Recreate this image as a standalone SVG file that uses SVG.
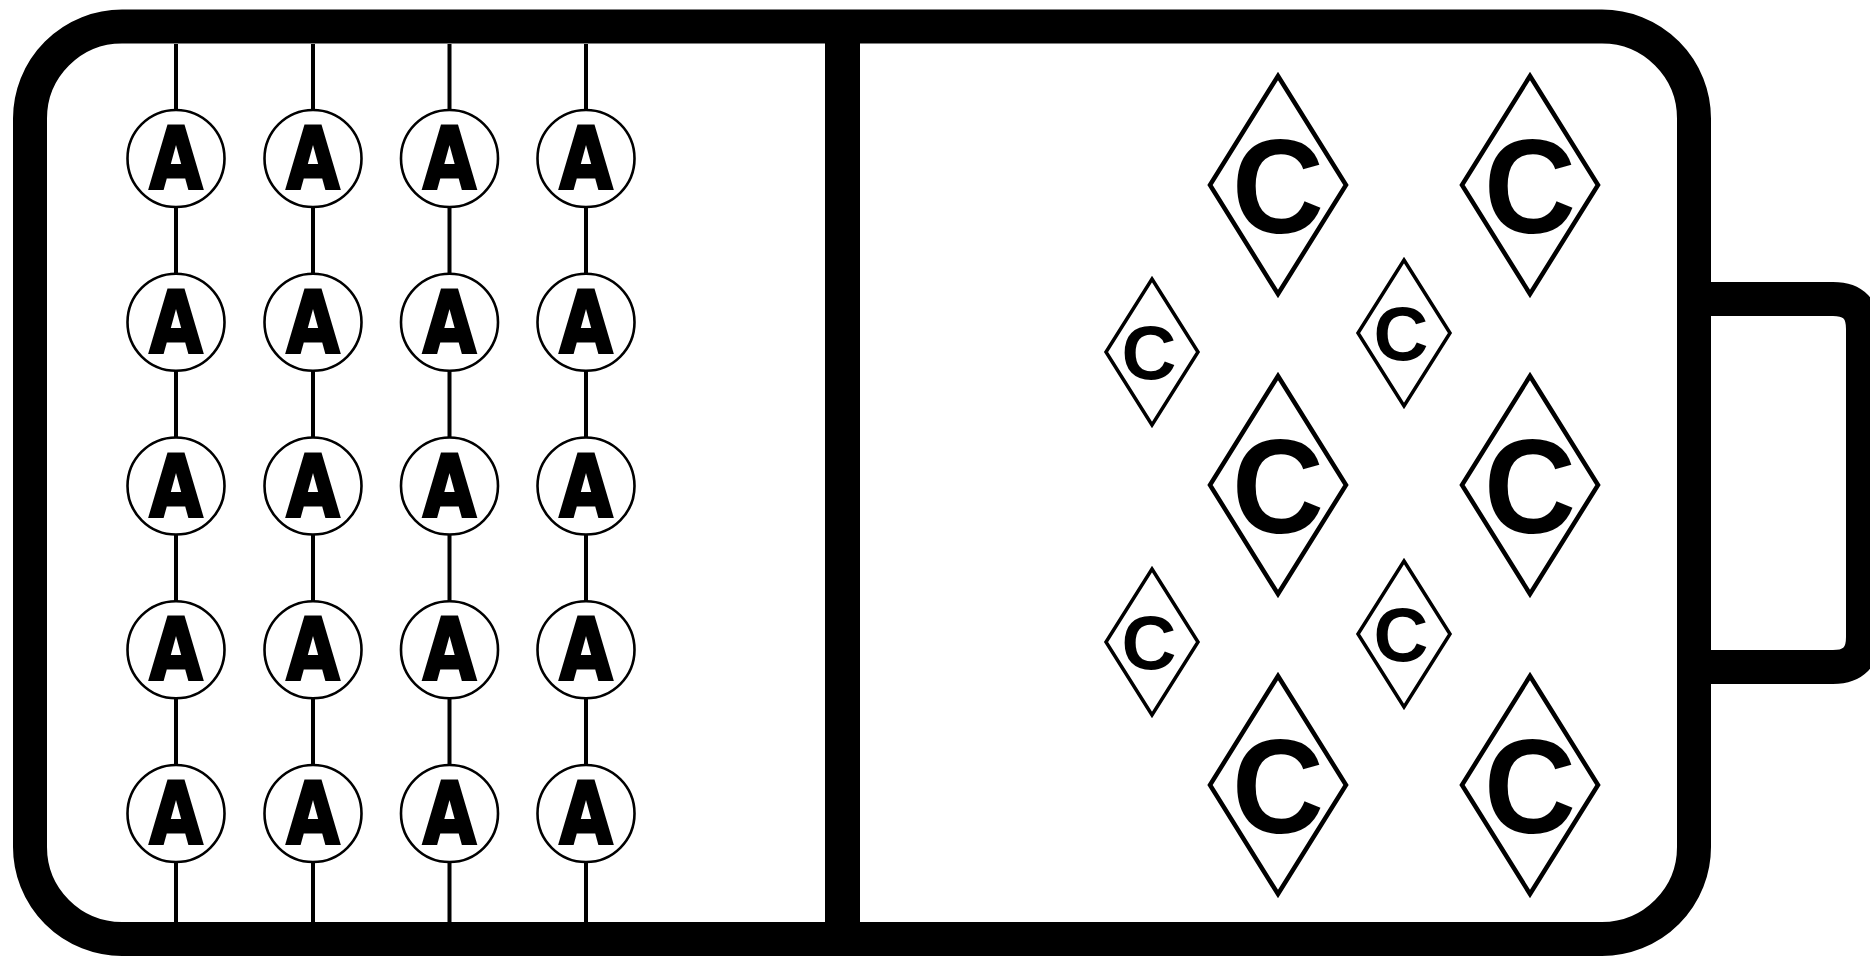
<svg xmlns="http://www.w3.org/2000/svg" width="1870" height="956" viewBox="0 0 1870 956">
<style>
.frame{fill:none;stroke:#000;stroke-width:34}
.wire{stroke:#000;stroke-width:4}
.an circle{fill:#fff;stroke:#000;stroke-width:2.6}
.an text{font-family:"DejaVu Sans","Liberation Sans",sans-serif;font-weight:bold;font-size:86px;text-anchor:middle;fill:#000;stroke:#000;stroke-width:3;stroke-linejoin:miter}
.cd polygon{fill:#fff;stroke:#000;stroke-linejoin:miter;stroke-miterlimit:10}
.big polygon{stroke-width:4.5}
.small polygon{stroke-width:3.5}
.cd text{font-family:"Liberation Sans",Arial,sans-serif;font-weight:bold;text-anchor:middle;fill:#000}
.big text{font-size:134px}
.small text{font-size:76px}
</style>
<rect x="0" y="0" width="1870" height="956" fill="#fff"/>
<g id="battery">
<path class="frame" d="M1694,299 H1833 Q1863,299 1863,329 V637 Q1863,667 1833,667 H1694"/>
<rect class="frame" x="30" y="26.5" width="1664" height="912.5" rx="92" ry="92"/>
<line x1="842.5" y1="26.5" x2="842.5" y2="939" stroke="#000" stroke-width="35"/>
</g>
<g id="connectors">
<line class="wire" x1="176" y1="44" x2="176" y2="923"/>
<line class="wire" x1="313" y1="44" x2="313" y2="923"/>
<line class="wire" x1="449.5" y1="44" x2="449.5" y2="923"/>
<line class="wire" x1="586" y1="44" x2="586" y2="923"/>
</g>
<g id="anode">
<g id="a11" class="an"><circle cx="176" cy="158.5" r="48.5"/><text x="176" y="188" textLength="53" lengthAdjust="spacingAndGlyphs">A</text></g>
<g id="a12" class="an"><circle cx="313" cy="158.5" r="48.5"/><text x="313" y="188" textLength="53" lengthAdjust="spacingAndGlyphs">A</text></g>
<g id="a13" class="an"><circle cx="449.5" cy="158.5" r="48.5"/><text x="449.5" y="188" textLength="53" lengthAdjust="spacingAndGlyphs">A</text></g>
<g id="a14" class="an"><circle cx="586" cy="158.5" r="48.5"/><text x="586" y="188" textLength="53" lengthAdjust="spacingAndGlyphs">A</text></g>
<g id="a21" class="an"><circle cx="176" cy="322.25" r="48.5"/><text x="176" y="351.75" textLength="53" lengthAdjust="spacingAndGlyphs">A</text></g>
<g id="a22" class="an"><circle cx="313" cy="322.25" r="48.5"/><text x="313" y="351.75" textLength="53" lengthAdjust="spacingAndGlyphs">A</text></g>
<g id="a23" class="an"><circle cx="449.5" cy="322.25" r="48.5"/><text x="449.5" y="351.75" textLength="53" lengthAdjust="spacingAndGlyphs">A</text></g>
<g id="a24" class="an"><circle cx="586" cy="322.25" r="48.5"/><text x="586" y="351.75" textLength="53" lengthAdjust="spacingAndGlyphs">A</text></g>
<g id="a31" class="an"><circle cx="176" cy="486" r="48.5"/><text x="176" y="515.5" textLength="53" lengthAdjust="spacingAndGlyphs">A</text></g>
<g id="a32" class="an"><circle cx="313" cy="486" r="48.5"/><text x="313" y="515.5" textLength="53" lengthAdjust="spacingAndGlyphs">A</text></g>
<g id="a33" class="an"><circle cx="449.5" cy="486" r="48.5"/><text x="449.5" y="515.5" textLength="53" lengthAdjust="spacingAndGlyphs">A</text></g>
<g id="a34" class="an"><circle cx="586" cy="486" r="48.5"/><text x="586" y="515.5" textLength="53" lengthAdjust="spacingAndGlyphs">A</text></g>
<g id="a41" class="an"><circle cx="176" cy="649.75" r="48.5"/><text x="176" y="679.25" textLength="53" lengthAdjust="spacingAndGlyphs">A</text></g>
<g id="a42" class="an"><circle cx="313" cy="649.75" r="48.5"/><text x="313" y="679.25" textLength="53" lengthAdjust="spacingAndGlyphs">A</text></g>
<g id="a43" class="an"><circle cx="449.5" cy="649.75" r="48.5"/><text x="449.5" y="679.25" textLength="53" lengthAdjust="spacingAndGlyphs">A</text></g>
<g id="a44" class="an"><circle cx="586" cy="649.75" r="48.5"/><text x="586" y="679.25" textLength="53" lengthAdjust="spacingAndGlyphs">A</text></g>
<g id="a51" class="an"><circle cx="176" cy="813.5" r="48.5"/><text x="176" y="843" textLength="53" lengthAdjust="spacingAndGlyphs">A</text></g>
<g id="a52" class="an"><circle cx="313" cy="813.5" r="48.5"/><text x="313" y="843" textLength="53" lengthAdjust="spacingAndGlyphs">A</text></g>
<g id="a53" class="an"><circle cx="449.5" cy="813.5" r="48.5"/><text x="449.5" y="843" textLength="53" lengthAdjust="spacingAndGlyphs">A</text></g>
<g id="a54" class="an"><circle cx="586" cy="813.5" r="48.5"/><text x="586" y="843" textLength="53" lengthAdjust="spacingAndGlyphs">A</text></g>
</g>
<g id="cathode">
<g id="c1" class="cd big"><polygon points="1278,76 1346,185 1278,294 1210,185"/><text x="1278" y="233" textLength="92" lengthAdjust="spacingAndGlyphs">C</text></g>
<g id="c2" class="cd big"><polygon points="1530,76 1598,185 1530,294 1462,185"/><text x="1530" y="233" textLength="92" lengthAdjust="spacingAndGlyphs">C</text></g>
<g id="c3" class="cd big"><polygon points="1278,376 1346,485 1278,594 1210,485"/><text x="1278" y="533" textLength="92" lengthAdjust="spacingAndGlyphs">C</text></g>
<g id="c4" class="cd big"><polygon points="1530,376 1598,485 1530,594 1462,485"/><text x="1530" y="533" textLength="92" lengthAdjust="spacingAndGlyphs">C</text></g>
<g id="c5" class="cd big"><polygon points="1278,676 1346,785 1278,894 1210,785"/><text x="1278" y="833" textLength="92" lengthAdjust="spacingAndGlyphs">C</text></g>
<g id="c6" class="cd big"><polygon points="1530,676 1598,785 1530,894 1462,785"/><text x="1530" y="833" textLength="92" lengthAdjust="spacingAndGlyphs">C</text></g>
<g id="c7" class="cd small"><polygon points="1152,279 1198,352 1152,425 1106,352"/><text x="1149" y="379">C</text></g>
<g id="c8" class="cd small"><polygon points="1404,260 1450,333 1404,406 1358,333"/><text x="1401" y="360">C</text></g>
<g id="c9" class="cd small"><polygon points="1152,569 1198,642 1152,715 1106,642"/><text x="1149" y="669">C</text></g>
<g id="c10" class="cd small"><polygon points="1404,561 1450,634 1404,707 1358,634"/><text x="1401" y="661">C</text></g>
</g>
</svg>
